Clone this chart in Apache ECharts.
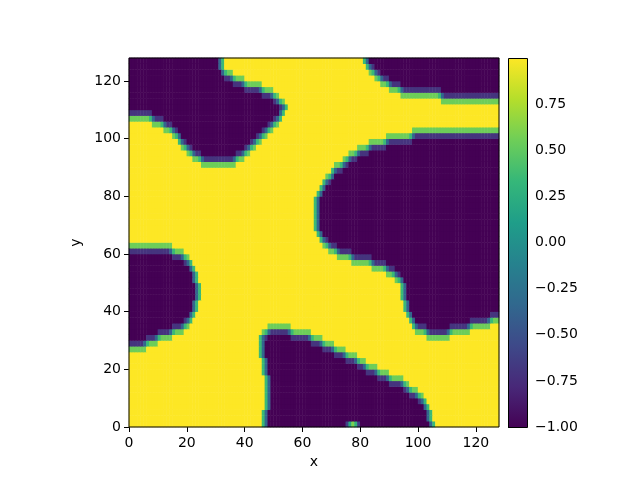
<!DOCTYPE html>
<html>
<head>
<meta charset="utf-8">
<script src="https://cdn.jsdelivr.net/npm/echarts@6/dist/echarts.min.js"></script>
<style>
  html, body { margin: 0; padding: 0; background: #fff; }
  #chart { width: 640px; height: 480px; }
</style>
</head>
<body>
<div id="chart"></div>
<script>
// tick labels
const axisTicks = [0, 20, 40, 60, 80, 100, 120];
const barTicks = [-1, -0.75, -0.5, -0.25, 0, 0.25, 0.5, 0.75];

// dark (-1) phase regions:
// [row centre y, x from, x to]  (rows are 2 units tall)
const regionTopLeft = [
  [93, 25, 37], [95, 22, 40], [97, 20, 42], [99, 18.5, 44], [101, 17, 46],
  [103, 15, 48], [105, 12.5, 50.5], [107, 8, 52.5], [109, 0, 53.5], [111, 0, 54],
  [113, 0, 52.5], [115, 0, 50], [117, 0, 46], [119, 0, 40.5], [121, 0, 36],
  [123, 0, 33.5], [125, 0, 32.5], [127, 0, 32]
];
const regionLeft = [
  [29, 0, 6], [31, 0, 10], [33, 0, 15.5], [35, 0, 19], [37, 0, 21], [39, 0, 22],
  [41, 0, 23], [43, 0, 23.5], [45, 0, 24], [47, 0, 24], [49, 0, 24], [51, 0, 23.5],
  [53, 0, 23], [55, 0, 22], [57, 0, 21], [59, 0, 19.5], [61, 0, 15]
];
const regionBottom = [
  [1, 47.5, 105], [3, 47.5, 104.5], [5, 47.5, 104], [7, 48, 103], [9, 48, 101.6],
  [11, 48, 100], [13, 48, 97.5], [15, 48, 95], [17, 48, 90.5], [19, 47.5, 86],
  [21, 47, 82.3], [23, 47, 78.7], [25, 46.5, 75], [27, 46, 71], [29, 46, 67],
  [31, 46.5, 63], [33, 48.5, 56]
];
const regionRight = [
  [33, 103, 111], [35, 99.5, 118.5], [37, 98, 125], [39, 97, 128], [41, 96.5, 128],
  [43, 96, 128], [45, 95.5, 128], [47, 95.5, 128], [49, 95, 128], [51, 94, 128],
  [53, 92.5, 128], [55, 89.5, 128], [57, 84, 128], [59, 77.5, 128], [61, 72.5, 128],
  [63, 69.5, 128], [65, 67, 128], [67, 66, 128], [69, 65.5, 128], [71, 65, 128],
  [73, 65, 128], [75, 65, 128], [77, 65, 128], [79, 65.5, 128], [81, 66, 128],
  [83, 67, 128], [85, 68, 128], [87, 69.8, 128], [89, 71.5, 128], [91, 73.8, 128],
  [93, 76.2, 128], [95, 79.5, 128], [97, 83, 128], [99, 89.5, 128], [101, 98, 128]
];
const regionTopRight = [
  [115, 108, 128], [117, 94.5, 128], [119, 90.5, 128], [121, 87, 128],
  [123, 85, 128], [125, 83.5, 128], [127, 82.5, 128]
];
// small droplet near the bottom edge: [column, row, value]
const dotCells = [[75, 0, -0.6], [76, 0, 0.2], [77, 0, 0.6], [78, 0, 0.3], [79, 0, -0.6]];

// values given to the thin interface band between the two phases
const edgeSide = { lightX: 0.35, lightY: 0.55, darkX: -0.35, darkY: -0.7 };

const nx = 128, ny = 64;
const xCats = [], yCats = [];
for (let i = 0; i < nx; i++) xCats.push(String(i));
for (let j = 0; j < ny; j++) yCats.push(String(j));

// phase per cell: true = dark
const dark = [];
for (let j = 0; j < ny; j++) {
  dark.push([]);
  for (let i = 0; i < nx; i++) dark[j].push(false);
}
[regionTopLeft, regionLeft, regionBottom, regionRight, regionTopRight].forEach(function (reg) {
  reg.forEach(function (r) {
    const j = (r[0] - 1) / 2;
    for (let i = 0; i < nx; i++) {
      const c = i + 0.5;
      if (c >= r[1] && c < r[2]) dark[j][i] = true;
    }
  });
});

function at(i, j, d) {
  if (i < 0 || i >= nx || j < 0 || j >= ny) return d;
  return dark[j][i];
}

const cells = [];
for (let j = 0; j < ny; j++) {
  for (let i = 0; i < nx; i++) {
    const d = dark[j][i];
    const xDiff = at(i - 1, j, d) !== d || at(i + 1, j, d) !== d;
    const yDiff = at(i, j - 1, d) !== d || at(i, j + 1, d) !== d;
    let v = d ? -1 : 1;
    if (xDiff) v = d ? edgeSide.darkX : edgeSide.lightX;
    else if (yDiff) v = d ? edgeSide.darkY : edgeSide.lightY;
    cells.push([i, j, v]);
  }
}
dotCells.forEach(function (d) { cells[d[1] * nx + d[0]][2] = d[2]; });

const viridis = ['#440154', '#482878', '#3e4989', '#31688e', '#26828e',
  '#1f9e89', '#35b779', '#6ece58', '#b5de2b', '#fde725'];

const font = 'DejaVu Sans';
const chart = echarts.init(document.getElementById('chart'), null, { renderer: 'canvas' });
const option = {
  animation: false,
  textStyle: { fontFamily: font },
  grid: [
    { left: 129, top: 58, width: 370, height: 369, show: true, z: 5,
      backgroundColor: 'transparent', borderColor: '#000', borderWidth: 1 },
    { left: 508, top: 58, width: 19, height: 369, show: false }
  ],
  graphic: [{
    type: 'rect', left: 508, top: 58, z: 100,
    shape: { x: 0, y: 0, width: 19, height: 369 },
    style: {
      fill: new echarts.graphic.LinearGradient(0, 1, 0, 0,
        viridis.map(function (c, k) { return { offset: k / (viridis.length - 1), color: c }; })),
      stroke: '#000', lineWidth: 1
    }
  }],
  xAxis: [
    { type: 'category', gridIndex: 0, data: xCats, show: false },
    { type: 'value', gridIndex: 0, min: 0, max: 128, position: 'bottom',
      name: 'x', nameLocation: 'middle', nameGap: 28,
      nameTextStyle: { fontSize: 14, color: '#000', fontFamily: font },
      splitLine: { show: false }, axisLine: { show: false },
      axisTick: { show: true, length: 5, lineStyle: { color: '#000' }, customValues: axisTicks },
      axisLabel: { fontSize: 14, color: '#000', margin: 9, fontFamily: font, customValues: axisTicks } },
    { type: 'value', gridIndex: 1, min: 0, max: 1, show: false }
  ],
  yAxis: [
    { type: 'category', gridIndex: 0, data: yCats, show: false },
    { type: 'value', gridIndex: 0, min: 0, max: 128, position: 'left',
      name: 'y', nameLocation: 'middle', nameGap: 37, nameRotate: 90,
      nameTextStyle: { fontSize: 14, color: '#000', fontFamily: font },
      splitLine: { show: false }, axisLine: { show: false },
      axisTick: { show: true, length: 5, lineStyle: { color: '#000' }, customValues: axisTicks },
      axisLabel: { fontSize: 14, color: '#000', margin: 8, fontFamily: font, customValues: axisTicks } },
    { type: 'value', gridIndex: 1, min: -1, max: 1, position: 'right',
      splitLine: { show: false }, axisLine: { show: false },
      axisTick: { show: true, length: 5, lineStyle: { color: '#000' }, customValues: barTicks },
      axisLabel: { fontSize: 14, color: '#000', margin: 8, fontFamily: font, customValues: barTicks,
        formatter: function (v) { return (v < 0 ? '\u2212' : '') + Math.abs(v).toFixed(2); } } }
  ],
  visualMap: {
    type: 'continuous', min: -1, max: 1, seriesIndex: 0, show: false,
    inRange: { color: viridis }
  },
  series: [{
    type: 'heatmap', xAxisIndex: 0, yAxisIndex: 0,
    data: cells, progressive: 0, emphasis: { disabled: true }
  }]
};
chart.setOption(option);
</script>
</body>
</html>
